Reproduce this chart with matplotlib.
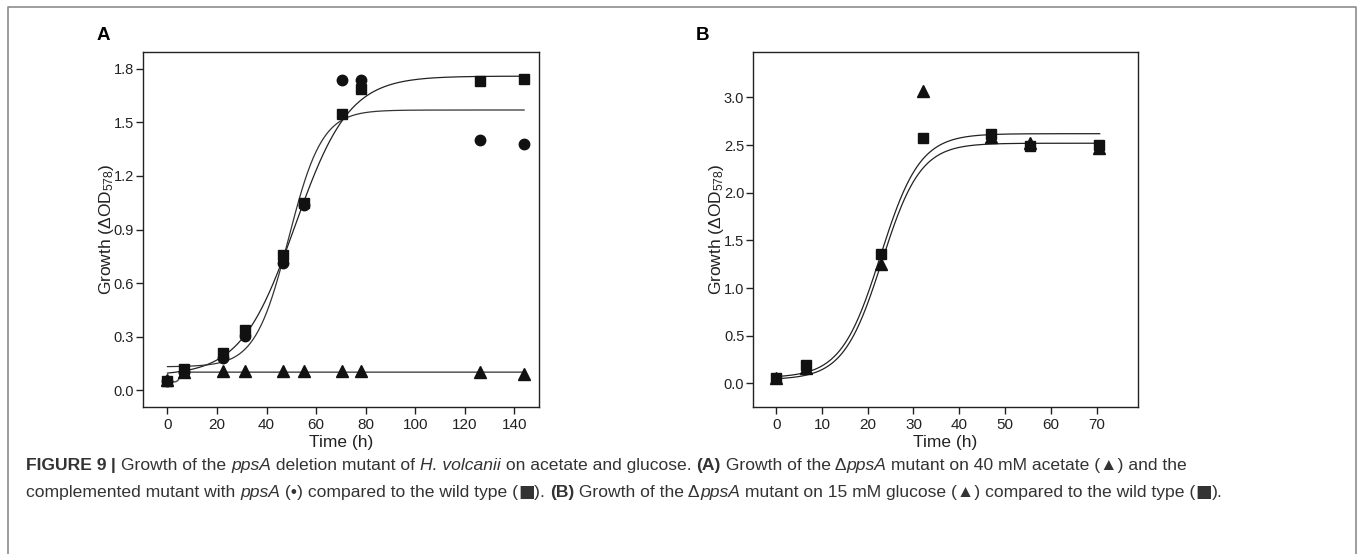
import numpy as np
import matplotlib
matplotlib.use("Agg")
import matplotlib.pyplot as plt
from matplotlib.lines import Line2D

plt.rcParams['font.family'] = ['Liberation Sans', 'DejaVu Sans']
plt.rcParams['mathtext.fontset'] = 'custom'
plt.rcParams['mathtext.rm'] = 'Liberation Sans'
plt.rcParams['mathtext.it'] = 'Liberation Sans:italic'
plt.rcParams['mathtext.default'] = 'regular'

# panel A: 40 mM acetate
time_a = [0, 6.5, 22.5, 31.5, 46.5, 55, 70.5, 78, 126, 144]
wt_a = [0.05, 0.115, 0.21, 0.335, 0.755, 1.05, 1.545, 1.69, 1.735, 1.745]
comp_a = [0.05, 0.10, 0.18, 0.305, 0.71, 1.035, 1.74, 1.74, 1.40, 1.38]
mut_a = [0.055, 0.10, 0.108, 0.105, 0.105, 0.105, 0.105, 0.105, 0.10, 0.092]

# panel B: 15 mM glucose
time_b = [0, 6.5, 23, 32, 47, 55.5, 70.5]
wt_b = [0.06, 0.19, 1.36, 2.58, 2.62, 2.49, 2.50]
mut_b = [0.06, 0.16, 1.25, 3.07, 2.59, 2.52, 2.47]

# sigmoid fits (y0, a, x0, b)
fit_wt_a = (0.08, 1.68, 51.5, 10.9)
fit_comp_a = (0.13, 1.44, 48.9, 6.75)
fit_mut_a = (0.045, 0.055, 5.0, 0.5)
fit_wt_b = (0.06, 2.56, 22.8, 4.3)
fit_mut_b = (0.04, 2.48, 23.1, 4.2)


def sigmoid(x, p):
    y0, a, x0, b = p
    return y0 + a / (1 + np.exp(-(x - x0) / b))


W, H = 1360, 554
fig = plt.figure(figsize=(W / 100, H / 100), dpi=100)

# figure frame (open at the bottom)
fc = '#8c8c8c'
frame_x = [8, 8, 1356, 1356]
frame_y = [554, 7, 7, 554]
fig.add_artist(Line2D([v / W for v in frame_x], [1 - v / H for v in frame_y],
                      color=fc, lw=1.2, transform=fig.transFigure))

ax_a = fig.add_axes([142.7 / W, 1 - 407.3 / H, (539 - 142.7) / W, (407.3 - 51.7) / H])
ax_b = fig.add_axes([753.3 / W, 1 - 407.3 / H, (1137.7 - 753.3) / W, (407.3 - 51.7) / H])

dark = '#111111'
xa = np.linspace(0, 144, 400)
ax_a.plot(xa, sigmoid(xa, fit_mut_a), color='#555555', lw=1.1)
ax_a.plot(xa, sigmoid(xa, fit_wt_a), color='#222222', lw=0.9)
ax_a.plot(xa, sigmoid(xa, fit_comp_a), color='#333333', lw=0.9)
ax_a.plot(time_a, mut_a, '^', color=dark, ms=8)
ax_a.plot(time_a, comp_a, 'o', color=dark, ms=7.5)
ax_a.plot(time_a, wt_a, 's', color=dark, ms=7)

xb = np.linspace(0, 70.7, 400)
ax_b.plot(xb, sigmoid(xb, fit_wt_b), color='#222222', lw=0.9)
ax_b.plot(xb, sigmoid(xb, fit_mut_b), color='#222222', lw=0.9)
ax_b.plot(time_b, mut_b, '^', color=dark, ms=8)
ax_b.plot(time_b, wt_b, 's', color=dark, ms=7)

ax_a.set_xlim(-10, 150)
ax_a.set_ylim(-0.097, 1.897)
ax_a.set_xticks(range(0, 141, 20))
ax_a.set_yticks([0.0, 0.3, 0.6, 0.9, 1.2, 1.5, 1.8])
ax_a.set_yticklabels(['0.0', '0.3', '0.6', '0.9', '1.2', '1.5', '1.8'])

ax_b.set_xlim(-5, 79)
ax_b.set_ylim(-0.25, 3.48)
ax_b.set_xticks(range(0, 71, 10))
ax_b.set_yticks([0.0, 0.5, 1.0, 1.5, 2.0, 2.5, 3.0])
ax_b.set_yticklabels(['0.0', '0.5', '1.0', '1.5', '2.0', '2.5', '3.0'])

for ax, ylab_x in [(ax_a, -0.068), (ax_b, -0.072)]:
    for s in ax.spines.values():
        s.set_linewidth(1.0)
        s.set_color('#222222')
    ax.tick_params(direction='out', length=5, width=1.0, labelsize=11, color='#222222',
                   labelcolor='#222222', pad=3)
    ax.tick_params(axis='y', labelsize=10.5, pad=1.5)
    ax.set_xlabel('Time (h)', fontsize=12.5, color='#222222')
    ax.set_ylabel('Growth (ΔOD$_{578}$)', fontsize=12.5, color='#222222')
    ax.xaxis.set_label_coords(0.5, -0.077)
    ax.yaxis.set_label_coords(ylab_x, 0.5)

fig.text(97 / W, 1 - 36 / H, 'A', fontsize=13.5, fontweight='bold', va='center', ha='left')
fig.text(696 / W, 1 - 36 / H, 'B', fontsize=13.5, fontweight='bold', va='center', ha='left')

# caption with mixed styles: (text, weight, style, family)
LS = ['Liberation Sans', 'DejaVu Sans']
DV = ['DejaVu Sans']
line1 = [("FIGURE 9", 'bold', 'normal', LS), (" | ", 'bold', 'normal', LS),
         ("Growth of the ", 'normal', 'normal', LS),
         ("ppsA", 'normal', 'italic', LS), (" deletion mutant of ", 'normal', 'normal', LS),
         ("H. volcanii", 'normal', 'italic', LS), (" on acetate and glucose. ", 'normal', 'normal', LS),
         ("(A)", 'bold', 'normal', LS), (" Growth of the Δ", 'normal', 'normal', LS),
         ("ppsA", 'normal', 'italic', LS),
         (" mutant on 40 mM acetate (▲) and the", 'normal', 'normal', LS)]
line2 = [("complemented mutant with ", 'normal', 'normal', LS), ("ppsA", 'normal', 'italic', LS),
         (" (•) compared to the wild type (", 'normal', 'normal', LS), ("■", 'normal', 'normal', DV),
         ("). ", 'normal', 'normal', LS), ("(B)", 'bold', 'normal', LS),
         (" Growth of the Δ", 'normal', 'normal', LS), ("ppsA", 'normal', 'italic', LS),
         (" mutant on 15 mM glucose (▲) compared to the wild type (", 'normal', 'normal', LS),
         ("■", 'normal', 'normal', DV), (").", 'normal', 'normal', LS)]

renderer = fig.canvas.get_renderer()
for line, ypix in [(line1, 465), (line2, 492)]:
    x = 26.0
    for txt, wt, st, fam in line:
        t = fig.text(x / W, 1 - (ypix + 5) / H, txt, fontsize=12.6, fontweight=wt, fontstyle=st,
                     family=fam, color='#333333', va='baseline', ha='left')
        x += t.get_window_extent(renderer).width

fig.savefig('out.png', dpi=100)
